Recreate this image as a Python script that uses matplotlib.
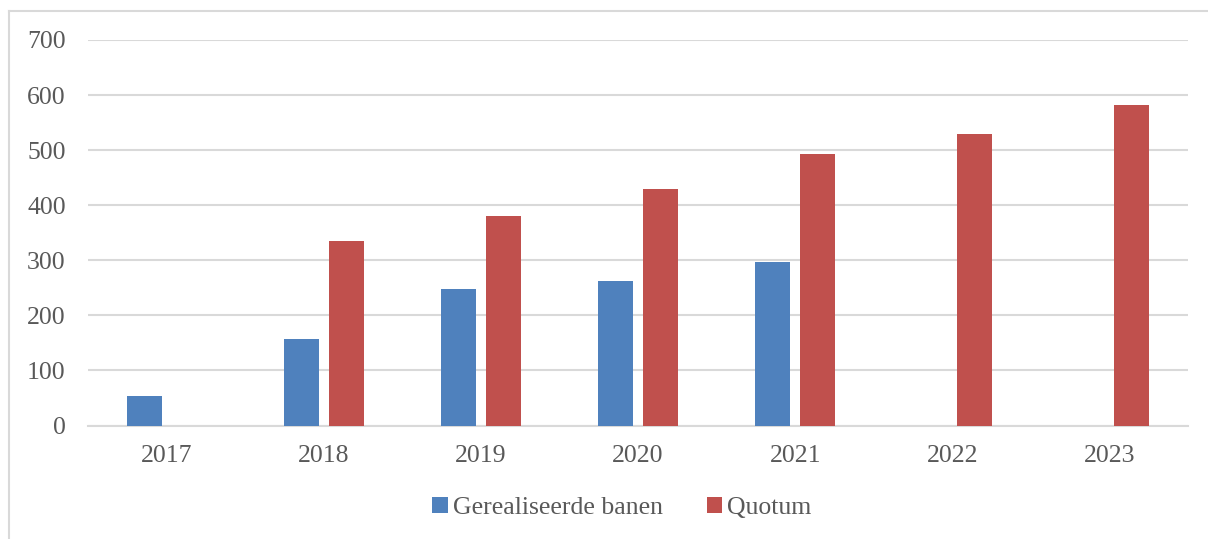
import numpy as np
import matplotlib.pyplot as plt
from matplotlib.lines import Line2D

years = ['2017', '2018', '2019', '2020', '2021', '2022', '2023']
gerealiseerd = [54, 157, 248, 262, 297, np.nan, np.nan]
quotum = [np.nan, 335, 380, 429, 493, 529, 582]

blauw = '#4F81BD'
rood = '#C0504D'
grijs = '#D9D9D9'
tekst = '#595959'

plt.rcParams['font.family'] = ['Liberation Serif', 'DejaVu Serif']

W, H = 1208, 539
fig = plt.figure(figsize=(W / 100, H / 100), dpi=100)
ax = fig.add_axes([88 / W, 1 - 425.5 / H, 1100 / W, 385.5 / H])

x = np.arange(len(years))
bw = 0.223
ax.bar(x - 0.143, gerealiseerd, bw, color=blauw, label='Gerealiseerde banen', zorder=3)
ax.bar(x + 0.143, quotum, bw, color=rood, label='Quotum', zorder=3)

ax.set_xlim(-0.5, len(years) - 0.5)
ax.set_ylim(0, 700)
ax.set_yticks(range(0, 701, 100))
ax.set_xticks(x)
ax.set_xticklabels(years)
ax.yaxis.grid(True, color=grijs, linewidth=1.5, zorder=0)
for s in ['top', 'right', 'left']:
    ax.spines[s].set_visible(False)
ax.spines['bottom'].set_color(grijs)
ax.spines['bottom'].set_linewidth(1.5)
ax.tick_params(axis='both', length=0, labelsize=18.5, colors=tekst)
ax.tick_params(axis='y', pad=16)
ax.tick_params(axis='x', pad=14)

ax.legend(loc='center', bbox_to_anchor=(622 / W, 1 - 508 / H), bbox_transform=fig.transFigure,
          ncol=2, frameon=False, fontsize=18.5, labelcolor=tekst, handlelength=0.6,
          handleheight=0.6, handletextpad=0.2, columnspacing=1.7)

# kader rond de grafiek
fig.add_artist(Line2D([9 / W, 1], [1 - 11 / H, 1 - 11 / H], color=grijs, linewidth=1.5))
fig.add_artist(Line2D([9 / W, 9 / W], [0, 1 - 11 / H], color=grijs, linewidth=1.5))

fig.savefig('out.png', dpi=100)
